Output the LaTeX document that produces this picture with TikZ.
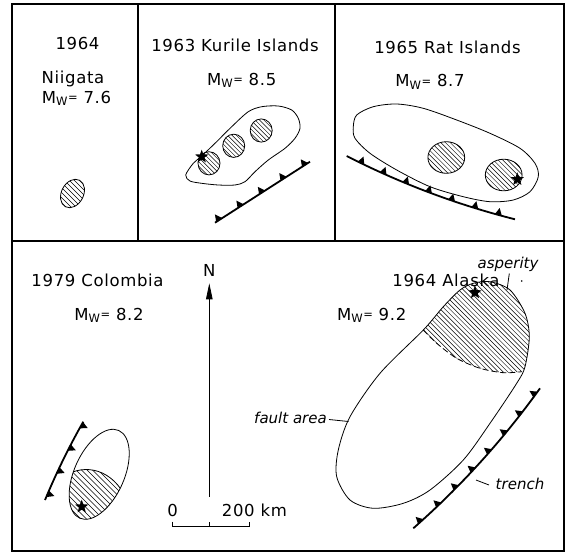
\documentclass[tikz,border=0pt]{standalone}
\usepackage{fontspec}
\setmainfont{DejaVu Sans}[LetterSpace=4]
\newfontfamily\itfam{DejaVu Sans}
\usetikzlibrary{arrows.meta,decorations.markings,shapes.geometric}
\newcommand\magw[1]{M\textsubscript{W}\raisebox{1.5pt}{\fontsize{11.5}{11.5}\selectfont=}\hspace{0.35em}#1}
\newcommand\hatchlines[4]{\foreach \k in {-30,...,30}{\draw[hatchline] ({#1+\k*#4-2*#3},{#2-2*#3}) -- ++({4*#3},{4*#3});}}
\tikzset{
 frame/.style={line width=1.1pt},
 outline/.style={line width=0.8pt},
 hatchline/.style={line width=0.45pt},
 lbl/.style={font=\fontsize{16.5}{19}\selectfont, inner sep=0pt, anchor=base},
 ilbl/.style={font=\itfam\itshape\fontsize{15}{18}\selectfont, inner sep=0pt, anchor=base},
 epi/.style={star, star points=5, star point ratio=2.4, fill=black, minimum size=14pt, inner sep=0pt},
 trench/.style args={#1 and #2}{line width=1.8pt, postaction={decorate, decoration={markings, mark=between positions #1 and -1pt step #2 with {\fill (-3.6,0) -- (3.6,0) -- (-0.6,-7) -- cycle;}}}},
}
\begin{document}
\begin{tikzpicture}[x=1pt,y=-1pt]
\useasboundingbox[fill=white] (0,0) rectangle (567,552);
\draw[frame] (12,4) rectangle (564,551);
\draw[frame] (12,241) -- (564,241);
\draw[frame] (138,4) -- (138,241);
\draw[frame] (335,4) -- (335,241);

% ---------- Niigata
\node[lbl] (n1) at (77.5,49) {1964};
\node[lbl] (n2) at (73,83.5) {Niigata};
\node[lbl] (n3) at (76.5,103) {\magw{7.6}};
\begin{scope}
 \clip[rotate around={62:(72.5,193.5)}] (72.5,193.5) ellipse [x radius=15, y radius=11];
 \hatchlines{72.5}{193.5}{20}{5}
\end{scope}
\draw[outline, rotate around={62:(72.5,193.5)}] (72.5,193.5) ellipse [x radius=15, y radius=11];

% ---------- Kurile
\node[lbl] (k1) at (235,51.7) {1963 Kurile Islands};
\node[lbl] (k2) at (241.7,85) {\magw{8.5}};
\draw[outline] plot[smooth cycle] coordinates {(185.7,175) (193.3,163.3) (201.7,156) (215,143.3) (231.7,126.7) (248.3,111.7) (261.7,106.7) (278.3,106) (291.7,110) (298.3,118.3) (300,128.3) (295,138.3) (285,148.3) (268.3,160) (255,171.7) (245,181.7) (235,185) (218.3,185) (201.7,183.3) (190,181)};
\foreach \cx/\cy in {209/163.3, 233.7/145.8, 261.2/130.5}{
 \begin{scope}
  \clip (\cx,\cy) ellipse [x radius=11, y radius=11.6];
  \hatchlines{\cx}{\cy}{15}{4.4}
 \end{scope}
 \draw[outline] (\cx,\cy) ellipse [x radius=11, y radius=11.6];
}
\node[epi] (k3) at (201.7,156.7) {};
\coordinate (kt1) at (215,222.7);
\coordinate (kt2) at (310,161.7);
\draw[trench=5pt and 25.5pt] (kt1) -- (kt2);

% ---------- Rat Islands
\node[lbl] (r1) at (447.5,53.3) {1965 Rat Islands};
\node[lbl] (r2) at (430,86.5) {\magw{8.7}};
\draw[outline] plot[smooth cycle] coordinates {(353.3,126.7) (356.7,115) (373.3,106.7) (396.7,104) (423.3,108.3) (456.7,120) (490,133.3) (520,148.3) (535,163.3) (538.3,176.7) (530,191.7) (513.3,200) (490,201.7) (463.3,196.7) (430,186.7) (396.7,170) (370,153.3) (355,138.3)};
\foreach \cx/\cy in {446.3/157.5, 503.7/175}{
 \begin{scope}
  \clip (\cx,\cy) ellipse [x radius=18.4, y radius=15.8];
  \hatchlines{\cx}{\cy}{22}{4.7}
 \end{scope}
 \draw[outline] (\cx,\cy) ellipse [x radius=18.4, y radius=15.8];
}
\node[epi] (r3) at (517.3,179.3) {};
\coordinate (rt1) at (346.7,156);
\coordinate (rt2) at (515,219.3);
\draw[trench=16pt and 24.5pt] (rt1) .. controls (400.5,183.5) and (456.5,204.5) .. (rt2);

% ---------- Colombia
\node[lbl] (c1) at (97.5,286.7) {1979 Colombia};
\node[lbl] (c2) at (109,320) {\magw{8.2}};
\begin{scope}
 \clip[rotate around={66:(99.2,474.3)}] (99.2,474.3) ellipse [x radius=48, y radius=25];
 \begin{scope}
  \clip (62,478) .. controls (80,464) and (108,466) .. (124,494) -- (130,525) -- (60,525) -- cycle;
  \hatchlines{95}{500}{30}{5.5}
 \end{scope}
 \draw[outline] (62,478) .. controls (80,464) and (108,466) .. (124,494);
\end{scope}
\draw[outline, rotate around={66:(99.2,474.3)}] (99.2,474.3) ellipse [x radius=48, y radius=25];
\node[epi] (c3) at (81.7,506.7) {};
\coordinate (ct1) at (83.3,421.7);
\coordinate (ct2) at (45,500);
\draw[trench=4pt and 25.5pt] (ct1) .. controls (69,446.8) and (56.3,472.9) .. (ct2);

% ---------- North arrow and scale
\node[lbl] (N) at (209.3,276.7) {N};
\coordinate (nbot) at (209.3,496.7);
\coordinate (ntop) at (209.3,283.3);
\draw[outline, -{Triangle[length=16pt,width=6.5pt]}] (nbot) -- (ntop);
\node[lbl] (zero) at (172.7,516.7) {0};
\node[lbl, anchor=base west] (km) at (221.7,516.7) {200 km};
\coordinate (s0) at (172.7,526.7);
\coordinate (s1) at (209.3,526.7);
\coordinate (s2) at (249.3,526.7);
\draw[outline] ([yshift=5pt]s0) -- (s0) -- (s2) -- ([yshift=5pt]s2);
\draw[outline] (s1) -- ([yshift=5pt]s1);

% ---------- Alaska
\node[lbl] (a1) at (446,286.7) {1964 Alaska};
\node[lbl] (a2) at (371.7,320) {\magw{9.2}};
\begin{scope}
 \clip plot[smooth cycle] coordinates {(473.3,283.3) (490,281.7) (510,290) (525,313.3) (529.3,336.7) (525,366.7) (516.7,383.3) (490,423.3) (463.3,460) (430,490) (403.3,503.3) (373.3,508.3) (350,500) (336.7,476.7) (338.3,450) (350,416.7) (380,373.3) (423.3,330) (443.3,306.7) (460,290)};
 \clip plot[smooth] coordinates {(423.3,330) (436.7,343.3) (456.7,358.3) (480,368.3) (503.3,372.7) (521.7,371.7)} -- (545,371) -- (545,270) -- (400,270) -- (400,320) -- cycle;
 \hatchlines{475}{325}{60}{4.7}
\end{scope}
\draw[outline, dash pattern=on 6pt off 3pt] plot[smooth] coordinates {(423.3,330) (436.7,343.3) (456.7,358.3) (480,368.3) (503.3,372.7) (521.7,371.7)};
\draw[outline] plot[smooth cycle] coordinates {(473.3,283.3) (490,281.7) (510,290) (525,313.3) (529.3,336.7) (525,366.7) (516.7,383.3) (490,423.3) (463.3,460) (430,490) (403.3,503.3) (373.3,508.3) (350,500) (336.7,476.7) (338.3,450) (350,416.7) (380,373.3) (423.3,330) (443.3,306.7) (460,290)};
\node[epi] (a3) at (475,292.5) {};
\coordinate (at1) at (413.3,528.3);
\coordinate (at2) at (540,388.3);
\draw[trench=10pt and 24.5pt] (at1) .. controls (460.8,486.4) and (503.1,439.8) .. (at2);

\node[ilbl] (asp) at (508,268.3) {asperity};
\coordinate (asp1) at (509.3,273.5);
\coordinate (asp2) at (507,290);
\draw[outline] (asp1) -- (asp2);
\fill (521.7,281) circle (0.8);
\node[ilbl, anchor=base east] (fa) at (327,423.3) {fault area};
\coordinate (fa1) at (329,419.5);
\coordinate (fa2) at (348.5,421.5);
\draw[outline] (fa1) -- (fa2);
\node[ilbl] (tr) at (520,489) {trench};
\coordinate (tr1) at (476,480);
\coordinate (tr2) at (489,485);
\draw[outline] (tr1) -- (tr2);
\end{tikzpicture}
\end{document}
